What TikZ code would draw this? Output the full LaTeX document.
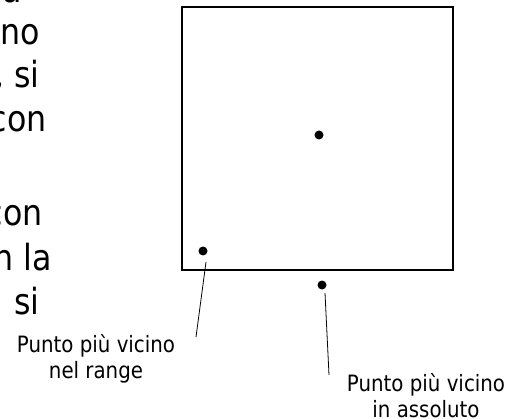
\documentclass[tikz,border=0pt]{standalone}
\usepackage{fontspec}
\setmainfont{DejaVu Sans}[FakeStretch=0.88]

\begin{document}
\begin{tikzpicture}[x=1pt,y=-1pt,
  dot/.style={circle,fill=black,inner sep=0pt,minimum size=9pt},
  pointer/.style={line width=0.8pt},
  caption/.style={align=center,inner sep=0pt,anchor=base,font=\fontsize{22.5}{26}\selectfont},
  body/.style={inner sep=0pt,anchor=base east,font=\fontsize{36}{44}\selectfont}]

  \useasboundingbox (0,0) rectangle (513,419);

  %text running off the left edge
  \begin{scope}
    \clip (0,0) rectangle (513,419);
    \foreach \txt/\xe/\yb [count=\i] in {a/22/3, ino/40/45, {, si}/40/88, con/47/132, con/43/226, n la/52/270, si/40/314}
      \node[body] (line\i) at (\xe,\yb) {\txt};
  \end{scope}

  %square
  \draw[line width=1.3pt] (182,7) rectangle (453,270);

  %points
  \node[dot] (centre) at (319,135) {};
  \node[dot] (near1) at (203,251) {};
  \node[dot] (near2) at (322,285) {};

  %labels (base sits on the last line)
  \node[caption] (range) at (96,378) {Punto più vicino\\nel range};
  \node[caption] (abs) at (426,417) {Punto più vicino\\in assoluto};

  %pointer lines
  \coordinate (tip1) at (196,337);
  \coordinate (tip2) at (329,375);
  \draw[pointer] ([shift={(3,11)}]near1.center) -- (tip1);
  \draw[pointer] ([shift={(3,8)}]near2.center) -- (tip2);
\end{tikzpicture}
\end{document}
